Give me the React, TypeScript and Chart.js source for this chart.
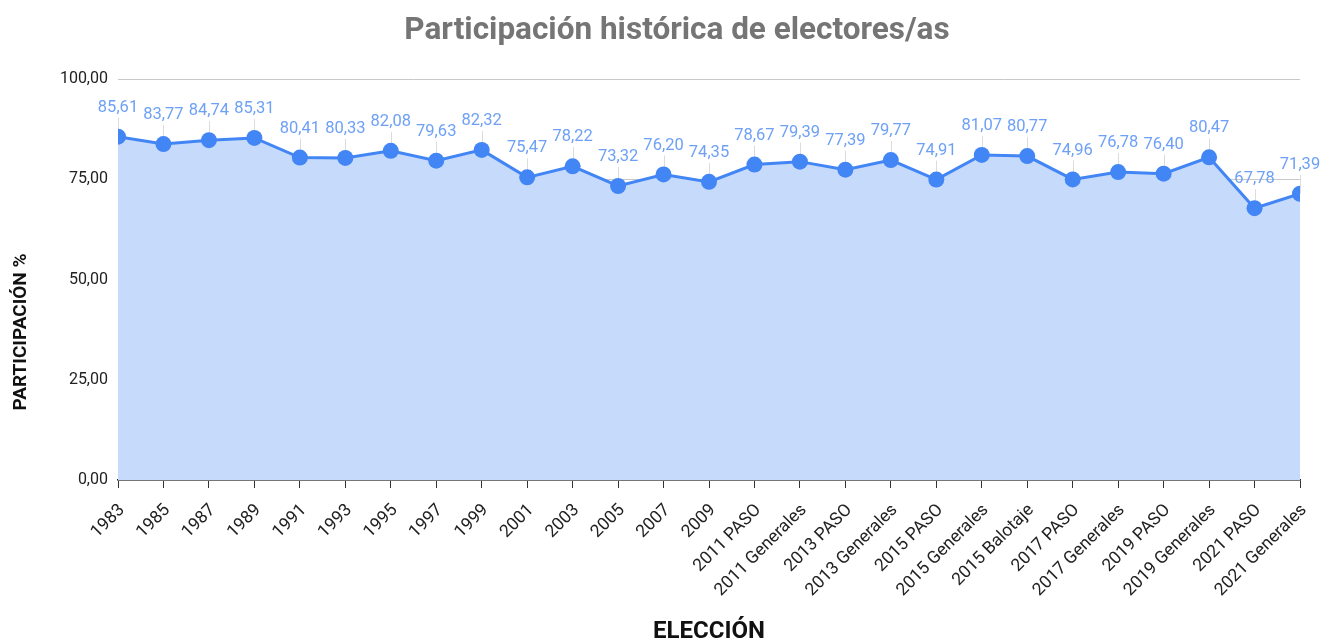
import React, { useEffect, useRef } from "react";
import { Chart, registerables } from "chart.js";

Chart.register(...registerables);

const categories = [
  "1983", "1985", "1987", "1989", "1991", "1993", "1995", "1997", "1999",
  "2001", "2003", "2005", "2007", "2009", "2011 PASO", "2011 Generales",
  "2013 PASO", "2013 Generales", "2015 PASO", "2015 Generales", "2015 Balotaje",
  "2017 PASO", "2017 Generales", "2019 PASO", "2019 Generales", "2021 PASO",
  "2021 Generales",
];

const participacion = [
  85.61, 83.77, 84.74, 85.31, 80.41, 80.33, 82.08, 79.63, 82.32,
  75.47, 78.22, 73.32, 76.2, 74.35, 78.67, 79.39,
  77.39, 79.77, 74.91, 81.07, 80.77,
  74.96, 76.78, 76.4, 80.47, 67.78,
  71.39,
];

const yTicks = [0, 25, 50, 75, 100];

const titleText = "Participación histórica de electores/as";
const yTitleText = "PARTICIPACIÓN %";

const fmt = (v: number) => v.toFixed(2).replace(".", ",");

const labelPlugin = {
  id: "dataLabels",
  beforeDatasetsDraw(chart: any) {
    const ctx = chart.ctx;
    const meta = chart.getDatasetMeta(0);
    ctx.save();
    ctx.strokeStyle = "rgba(205,205,205,0.7)";
    ctx.lineWidth = 1;
    meta.data.forEach((pt: any) => {
      ctx.beginPath();
      ctx.moveTo(Math.round(pt.x) + 0.5, pt.y - 19);
      ctx.lineTo(Math.round(pt.x) + 0.5, pt.y);
      ctx.stroke();
    });
    ctx.restore();
  },
  afterDatasetsDraw(chart: any) {
    const ctx = chart.ctx;
    const meta = chart.getDatasetMeta(0);
    ctx.save();
    ctx.font = "16.5px Roboto";
    ctx.textAlign = "center";
    ctx.textBaseline = "middle";
    meta.data.forEach((pt: any, i: number) => {
      ctx.fillStyle = "#6ea1f6";
      ctx.fillText(fmt(participacion[i]), pt.x, pt.y - 29);
    });
    ctx.restore();
  },
  afterDraw(chart: any) {
    const ctx = chart.ctx;
    ctx.save();
    ctx.textAlign = "center";
    ctx.textBaseline = "middle";
    ctx.fillStyle = "#757575";
    ctx.font = "bold 31.5px Roboto";
    ctx.fillText(titleText, 677, 31);
    ctx.translate(21, 332);
    ctx.rotate(-Math.PI / 2);
    ctx.fillStyle = "#111";
    ctx.font = "bold 19px Roboto";
    ctx.fillText(yTitleText, 0, 0);
    ctx.restore();
  },
};

export default function App() {
  const ref = useRef<HTMLCanvasElement | null>(null);
  useEffect(() => {
    if (!ref.current) return;
    const chart = new Chart(ref.current, {
      type: "line",
      data: {
        labels: categories,
        datasets: [
          {
            data: participacion,
            borderColor: "#4285f4",
            backgroundColor: "#c6dafc",
            fill: "origin",
            borderWidth: 3,
            pointRadius: 8,
            pointBackgroundColor: "#4285f4",
            pointBorderColor: "#4285f4",
            pointBorderWidth: 0,
            tension: 0,
            clip: { left: 0, right: 0, top: false, bottom: 0 } as any,
          },
        ],
      },
      options: {
        animation: false,
        responsive: false,
        maintainAspectRatio: false,
        layout: { padding: { left: 0, right: 20, top: 0, bottom: 0 } },
        plugins: {
          legend: { display: false },
          tooltip: { enabled: false },
          title: {
            display: true,
            text: titleText,
            color: "rgba(0,0,0,0)",
            font: { family: "Roboto", size: 31, weight: "bold", lineHeight: 1.2 },
            padding: { top: 12, bottom: 29.8 },
          },
        },
        scales: {
          x: {
            type: "category",
            offset: false,
            grid: {
              display: true,
              drawOnChartArea: false,
              drawTicks: true,
              tickLength: 8,
              color: "#333",
            },
            border: { display: true, color: "#222", width: 1.5 },
            ticks: {
              autoSkip: false,
              maxRotation: 45,
              minRotation: 45,
              color: "#222",
              font: { family: "Roboto", size: 17.5 },
              padding: 12,
              labelOffset: 4,
            },
            title: {
              display: true,
              text: "ELECCIÓN",
              color: "#111",
              font: { family: "Roboto", size: 24, weight: "bold", lineHeight: 1 },
              padding: { top: 0, bottom: 0 },
            },
            afterFit: (s: any) => {
              s.height = 164;
              s.paddingLeft = 0;
              s.paddingRight = 0;
            },
          },
          y: {
            min: 0,
            max: 100,
            afterBuildTicks: (s: any) => {
              s.ticks = yTicks.map((v) => ({ value: v }));
            },
            grid: { color: "#c8c8c8", drawTicks: false },
            border: { display: false },
            ticks: {
              color: "#222",
              font: { family: "Roboto", size: 16 },
              padding: 10,
              callback: (v: any) => fmt(Number(v)),
            },
            title: { display: false },
            afterFit: (s: any) => {
              s.width = 118;
            },
          },
        },
      },
      plugins: [labelPlugin],
    });
    return () => chart.destroy();
  }, []);
  return (
    <div style={{ position: "fixed", left: 0, top: 0, width: 1320, height: 644, background: "#fff" }}>
      <canvas ref={ref} width={1320} height={644} style={{ width: 1320, height: 644 }} />
    </div>
  );
}
